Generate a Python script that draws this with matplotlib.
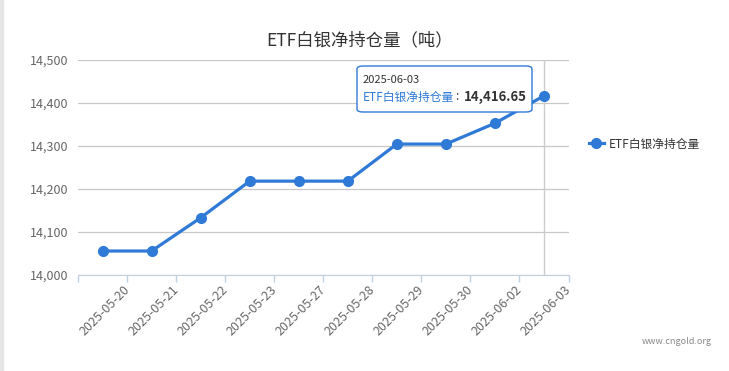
import numpy as np
import matplotlib.pyplot as plt
from matplotlib.patches import FancyBboxPatch, Rectangle

plt.rcParams['font.family'] = ['Noto Sans CJK SC', 'DejaVu Sans']

dates = ['2025-05-20', '2025-05-21', '2025-05-22', '2025-05-23', '2025-05-27',
         '2025-05-28', '2025-05-29', '2025-05-30', '2025-06-02', '2025-06-03']
holdings = [14055.8, 14055.8, 14133.0, 14218.3, 14218.3,
            14218.3, 14304.5, 14304.5, 14352.9, 14416.65]
series_name = 'ETF白银净持仓量'
title = 'ETF白银净持仓量（吨）'
yticks = [14000, 14100, 14200, 14300, 14400, 14500]

blue = '#2f7ad6'

fig = plt.figure(figsize=(7.29, 3.71), dpi=100)
fig.patches.append(Rectangle((0, 0), 3 / 729, 1, transform=fig.transFigure,
                             color='#e6e6e6', zorder=0))
ax = fig.add_axes([78 / 729, 1 - 275 / 371, 490.5 / 729, 215 / 371])

x = np.arange(len(dates))
ax.plot(x, holdings, color=blue, lw=2.3, marker='o', ms=7, zorder=3,
        label=series_name, clip_on=False)

ax.set_xlim(-0.5, len(dates) - 0.5)
ax.set_ylim(14000, 14500)
ax.set_yticks(yticks)
ax.set_yticklabels([f'{v:,}' for v in yticks], color='#666666', fontsize=9)
ax.tick_params(axis='y', length=0, pad=7)
ax.grid(axis='y', color='#c8c8c8', lw=0.9)
ax.set_axisbelow(True)

# tick marks on category boundaries, labels ending near the boundary
ax.set_xticks(np.arange(len(dates) + 1) - 0.5)
ax.set_xticklabels([])
ax.tick_params(axis='x', which='major', length=5, color='#c0d0e0', width=1)
ax.set_xticks(x + 0.42, minor=True)
ax.set_xticklabels(dates, minor=True, rotation=45, ha='right',
                   rotation_mode='anchor', color='#666666', fontsize=9)
ax.tick_params(axis='x', which='minor', length=0, pad=6)

for s in ['top', 'right', 'left']:
    ax.spines[s].set_visible(False)
ax.spines['bottom'].set_color('#c0d0e0')

# crosshair on last point
ax.axvline(x[-1], color='#cccccc', lw=1, zorder=1)

fig.text(360 / 729, 1 - 40 / 371, title, ha='center', va='center',
         fontsize=12.5, color='#333333')

# legend
fig.legend(loc='center left', bbox_to_anchor=(578 / 729, 1 - 144 / 371),
           frameon=False, fontsize=8.5, handlelength=1.3, handletextpad=0.4,
           labelcolor='#333333')

# tooltip
box = FancyBboxPatch((357 / 729, 1 - 112 / 371), 175 / 729, 46 / 371,
                     boxstyle='round,pad=0,rounding_size=0.008',
                     transform=fig.transFigure, facecolor='white',
                     edgecolor=blue, lw=1, zorder=5)
fig.patches.append(box)
fig.text(363 / 729, 1 - 80 / 371, dates[-1], fontsize=8, color='#333333',
         va='center', zorder=6)
fig.text(363 / 729, 1 - 97 / 371, series_name, fontsize=8.5,
         color=blue, va='center', zorder=6)
fig.text(455 / 729, 1 - 97 / 371, ':', fontsize=8.5,
         color='#333333', va='center', zorder=6)
fig.text(464 / 729, 1 - 97 / 371, f'{holdings[-1]:,.2f}', fontsize=9.5,
         color='#333333', fontweight='bold', va='center', zorder=6)

fig.text(712 / 729, 1 - 342 / 371, 'www.cngold.org', fontsize=6.5,
         color='#888888', ha='right', va='center')

fig.savefig('out.png', dpi=100)
